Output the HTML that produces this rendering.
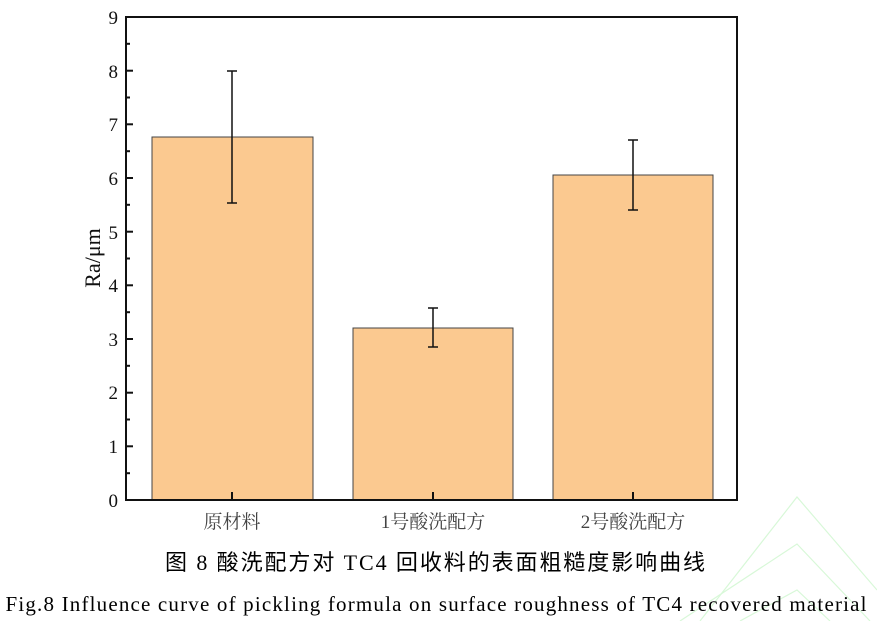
<!DOCTYPE html>
<html><head><meta charset="utf-8"><style>
body{margin:0;background:#fff;}
svg text{font-family:"Liberation Serif","Noto Serif CJK SC",serif;}
</style></head><body>
<svg width="877" height="621" viewBox="0 0 877 621" xmlns="http://www.w3.org/2000/svg">
<g stroke="#d8f8d8" stroke-width="1.2" fill="none">
<polyline points="700,621 797,497 877,590"/>
<polyline points="680,621 797,544 870,621"/>
<polyline points="740,621 797,590 830,621"/>
</g>
<g fill="#fbc990" stroke="#444" stroke-width="1">
<rect x="152" y="137" width="161" height="363"/>
<rect x="353" y="328" width="160" height="172"/>
<rect x="553" y="175" width="160" height="325"/>
</g>
<g stroke="#111" stroke-width="1.5">
<line x1="232" y1="71" x2="232" y2="203"/><line x1="227" y1="71" x2="237" y2="71"/><line x1="227" y1="203" x2="237" y2="203"/>
<line x1="433" y1="308" x2="433" y2="347"/><line x1="428" y1="308" x2="438" y2="308"/><line x1="428" y1="347" x2="438" y2="347"/>
<line x1="633" y1="140" x2="633" y2="210"/><line x1="628" y1="140" x2="638" y2="140"/><line x1="628" y1="210" x2="638" y2="210"/>
</g>
<rect x="126" y="17" width="611" height="483" fill="none" stroke="#111" stroke-width="2"/>
<g stroke="#111" stroke-width="2">
<line x1="126" y1="446.3" x2="133" y2="446.3"/><line x1="126" y1="392.7" x2="133" y2="392.7"/><line x1="126" y1="339" x2="133" y2="339"/><line x1="126" y1="285.3" x2="133" y2="285.3"/><line x1="126" y1="231.7" x2="133" y2="231.7"/><line x1="126" y1="178" x2="133" y2="178"/><line x1="126" y1="124.3" x2="133" y2="124.3"/><line x1="126" y1="70.7" x2="133" y2="70.7"/>
<line x1="126" y1="473.2" x2="130" y2="473.2"/><line x1="126" y1="419.5" x2="130" y2="419.5"/><line x1="126" y1="365.8" x2="130" y2="365.8"/><line x1="126" y1="312.2" x2="130" y2="312.2"/><line x1="126" y1="258.5" x2="130" y2="258.5"/><line x1="126" y1="204.8" x2="130" y2="204.8"/><line x1="126" y1="151.2" x2="130" y2="151.2"/><line x1="126" y1="97.5" x2="130" y2="97.5"/><line x1="126" y1="43.8" x2="130" y2="43.8"/>
<line x1="232" y1="500" x2="232" y2="492"/><line x1="433" y1="500" x2="433" y2="492"/><line x1="633" y1="500" x2="633" y2="492"/>
</g>
<g font-size="19" fill="#111" text-anchor="end">
<text x="118" y="507">0</text><text x="118" y="453">1</text><text x="118" y="399">2</text><text x="118" y="346">3</text><text x="118" y="292">4</text><text x="118" y="239">5</text><text x="118" y="185">6</text><text x="118" y="131">7</text><text x="118" y="78">8</text><text x="118" y="24">9</text>
</g>
<text transform="translate(100,258) rotate(-90)" font-size="22" text-anchor="middle" fill="#111">Ra/μm</text>
<g font-size="19" fill="#444" text-anchor="middle">
<text x="232" y="528">原材料</text><text x="433" y="528">1号酸洗配方</text><text x="633" y="528">2号酸洗配方</text>
</g>
<text x="435" y="570" font-size="22" text-anchor="middle" fill="#000" textLength="540" style="font-family:'Liberation Serif','Noto Sans CJK SC',serif">图 8  酸洗配方对 TC4 回收料的表面粗糙度影响曲线</text>
<text x="436" y="611" font-size="21" text-anchor="middle" fill="#000" textLength="861">Fig.8 Influence curve of pickling formula on surface roughness of TC4 recovered material</text>
</svg>
</body></html>
